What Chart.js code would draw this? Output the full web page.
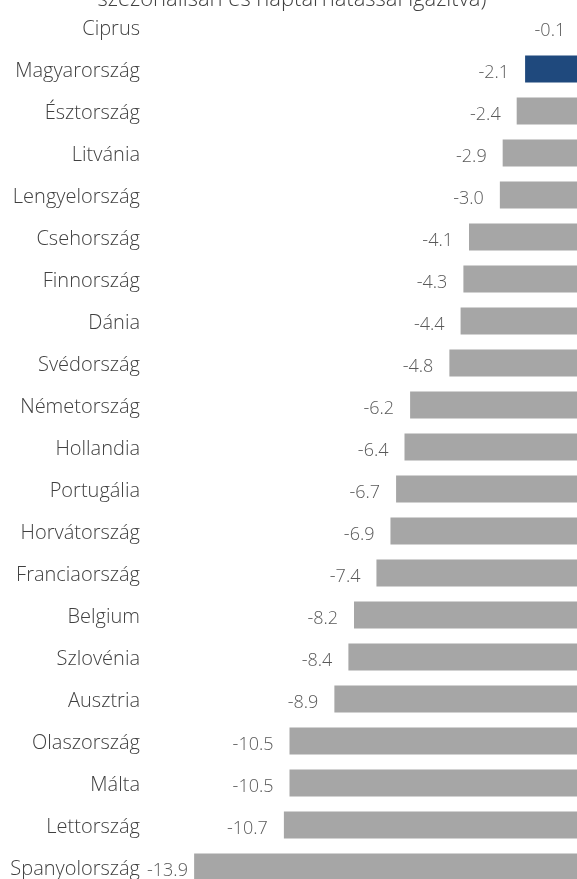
<!DOCTYPE html>
<html>
<head>
<meta charset="utf-8">
<script src="https://cdn.jsdelivr.net/npm/chart.js@4"></script>
<style>
    html, body { margin: 0; padding: 0; background: #fff; overflow: hidden; }
    body { width: 577px; height: 879px; position: relative; }
    #gdpChart { position: absolute; left: 0; top: -6px; }
</style>
</head>
<body>
<canvas id="gdpChart" width="590" height="906"></canvas>
<script>
const titleText = "szezonálisan és naptárhatással igazítva)";
const countries = [
    "Ciprus", "Magyarország", "Észtország", "Litvánia", "Lengyelország",
    "Csehország", "Finnország", "Dánia", "Svédország", "Németország",
    "Hollandia", "Portugália", "Horvátország", "Franciaország", "Belgium",
    "Szlovénia", "Ausztria", "Olaszország", "Málta", "Lettország", "Spanyolország"
];
const values = [
    -0.1, -2.1, -2.4, -2.9, -3.0,
    -4.1, -4.3, -4.4, -4.8, -6.2,
    -6.4, -6.7, -6.9, -7.4, -8.2,
    -8.4, -8.9, -10.5, -10.5, -10.7, -13.9
];
const highlight = "Magyarország";

const FONT = "'Open Sans', 'Segoe UI', sans-serif";

// value labels left of each bar end + the (cropped) title line
const valueLabels = {
    id: "valueLabels",
    afterDatasetsDraw(chart) {
        const ctx = chart.ctx;
        const meta = chart.getDatasetMeta(0);
        const area = chart.chartArea;
        ctx.save();
        ctx.font = "300 18px " + FONT;
        ctx.fillStyle = "#595959";
        ctx.textAlign = "right";
        ctx.textBaseline = "middle";
        meta.data.forEach((bar, i) => {
            const txt = values[i].toFixed(1);
            const w = ctx.measureText(txt).width;
            const x = Math.max(bar.x - 16, area.left + 7 + w);
            ctx.fillText(txt, x, bar.y + 4);
        });

        ctx.font = "300 22px " + FONT;
        ctx.fillStyle = "#404040";
        ctx.textAlign = "center";
        ctx.textBaseline = "alphabetic";
        ctx.fillText(titleText, 292, area.top - 0.5);
        ctx.restore();
    }
};

let chart;

function initializeChart() {
    const ctx = document.getElementById("gdpChart").getContext("2d");
    chart = new Chart(ctx, {
        type: "bar",
        data: {
            labels: countries,
            datasets: [{
                data: values,
                backgroundColor: countries.map(c => c === highlight ? "#1f497d" : "#a6a6a6"),
                borderWidth: 0,
                categoryPercentage: 1,
                barPercentage: 0.643
            }]
        },
        plugins: [valueLabels],
        options: {
            indexAxis: "y",
            responsive: false,
            animation: false,
            devicePixelRatio: 1,
            layout: { padding: { left: 0, right: 6, top: 0, bottom: 0 } },
            plugins: {
                legend: { display: false },
                tooltip: { enabled: false },
                title: { display: false }
            },
            scales: {
                x: {
                    display: false,
                    min: -15.83,
                    max: 0
                },
                y: {
                    grid: { display: false, drawTicks: false },
                    border: { display: false },
                    afterFit(scale) { scale.width = 140; },
                    ticks: {
                        padding: 0,
                        labelOffset: 2,
                        color: "#404040",
                        font: { family: FONT, size: 20, weight: "300", lineHeight: 1.2 }
                    }
                }
            }
        }
    });
}

window.onload = () => {
    initializeChart();
};
</script>
</body>
</html>
